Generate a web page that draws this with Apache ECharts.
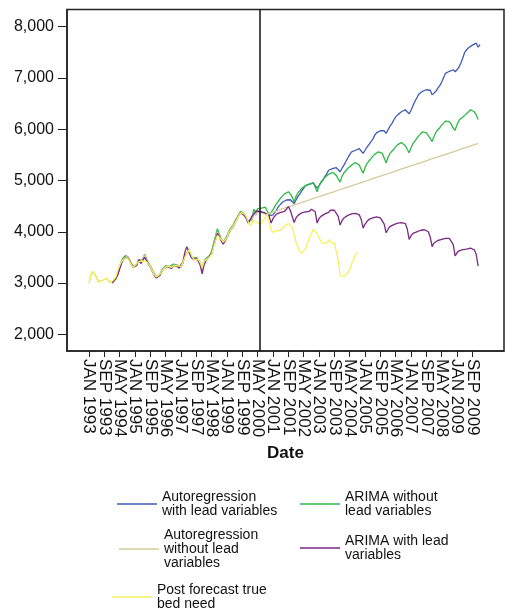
<!DOCTYPE html>
<html>
<head>
<meta charset="utf-8">
<script src="https://cdn.jsdelivr.net/npm/echarts@6/dist/echarts.min.js"></script>
<style>html,body{margin:0;padding:0;background:#fff}#chart{width:505px;height:610px}</style>
</head>
<body>
<div id="chart"></div>
<script>
// ---- axis definition ----
const MONTHS = ['JAN','FEB','MAR','APR','MAY','JUN','JUL','AUG','SEP','OCT','NOV','DEC'];
const AXIS_FIRST_YEAR = 1992, AXIS_FIRST_MONTH = 1; // FEB 1992
const AXIS_MONTH_COUNT = 228;                        // through JAN 2011
const DATA_START = 'JAN 1993';
const FORECAST_ORIGIN = 'JUN 2000';
const FIRST_TICK = 'JAN 1993', LAST_TICK = 'SEP 2009', TICK_STEP = 8;
const Y_TICKS = [2000, 3000, 4000, 5000, 6000, 7000, 8000];

// ---- data (monthly, from JAN 1993) ----
const trueBedNeed = [ // JAN 1993 .. SEP 2004
 3000,3180,3230,3160,3080,3010,3030,3050,3060,3100,3090,3000,
 3020,3070,3120,3250,3350,3420,3460,3480,3490,3440,3360,3300,
 3320,3380,3420,3400,3430,3460,3420,3370,3320,3240,3160,3120,
 3110,3170,3230,3280,3300,3330,3310,3300,3340,3350,3340,3310,
 3320,3410,3500,3570,3640,3590,3500,3450,3470,3460,3400,3300,
 3420,3450,3480,3510,3560,3700,3830,3930,3900,3850,3800,3780,
 3880,3990,4040,4100,4160,4230,4300,4370,4390,4350,4300,4200,
 4120,4150,4220,4200,4170,4160,4165,4170,4280,4350,4180,4040,
 3990,4000,4020,4020,4030,4040,4110,4140,4160,4170,4080,3950,
 3800,3700,3620,3580,3610,3670,3780,3880,3960,4050,4030,3960,
 3880,3810,3770,3750,3790,3840,3800,3790,3780,3770,3450,3150,
 3140,3130,3140,3200,3260,3380,3460,3550,3600];

const tanStart = [3000,3150,3220,3180,3100,3030,3020,3050,3070,3090,3100,3020]; // JAN..DEC 1993

const historyFit = [ // JAN 1994 .. MAY 2000
 3010,3060,3100,3180,3300,3400,3470,3500,3520,3460,3380,3310,
 3300,3370,3440,3400,3420,3540,3450,3380,3330,3250,3170,3110,
 3100,3160,3240,3290,3320,3330,3300,3310,3350,3380,3340,3310,
 3310,3400,3520,3580,3650,3570,3480,3460,3480,3440,3380,3250,
 3400,3460,3490,3520,3600,3740,3880,4000,3920,3840,3780,3800,
 3900,4000,4060,4100,4180,4250,4320,4380,4400,4340,4280,4180,
 4150,4230,4380,4330,4400];

const arimaNoLeadHist = [ // JAN 1994 .. MAY 2000
 3020,3050,3080,3200,3330,3440,3500,3540,3510,3450,3390,3320,
 3310,3380,3450,3420,3440,3560,3470,3390,3340,3260,3180,3120,
 3110,3170,3250,3300,3340,3350,3320,3330,3370,3400,3350,3320,
 3320,3390,3530,3560,3630,3560,3490,3480,3500,3460,3400,3280,
 3420,3480,3500,3540,3620,3780,3920,4060,3950,3860,3800,3820,
 3920,4020,4080,4120,4200,4260,4330,4400,4410,4350,4290,4200,
 4180,4270,4440,4380,4450];

const arimaLeadHist = [ // JAN 1994 .. MAY 2000
 3000,3040,3090,3160,3280,3390,3460,3490,3500,3450,3370,3300,
 3290,3350,3460,3380,3410,3500,3440,3360,3310,3230,3150,3100,
 3100,3150,3230,3280,3300,3320,3290,3280,3340,3370,3330,3290,
 3300,3420,3600,3710,3620,3520,3470,3450,3470,3430,3350,3180,
 3350,3440,3480,3510,3580,3720,3850,3970,3900,3820,3760,3780,
 3880,3980,4040,4090,4160,4240,4310,4370,4380,4320,4260,4170,
 4160,4300,4350,4400,4420];

const arLeadForecast = [ // JUN 2000 .. JAN 2010
 4400,4380,4370,4360,4330,4310,4290,
 4330,4380,4440,4500,4540,4580,4610,4620,4610,4625,4610,4550,
 4620,4690,4740,4800,4850,4900,4910,4930,4940,4950,4930,4850,
 4900,4960,5010,5070,5130,5200,5220,5230,5240,5250,5230,5170,
 5240,5300,5370,5440,5510,5560,5580,5590,5610,5620,5600,5530,
 5590,5650,5700,5730,5800,5880,5930,5950,5970,5990,5970,5920,
 5990,6060,6110,6180,6240,6280,6310,6340,6360,6380,6360,6300,
 6370,6460,6540,6610,6680,6710,6740,6760,6770,6780,6760,6670,
 6700,6740,6800,6850,6920,7010,7090,7110,7130,7150,7160,7120,
 7160,7210,7290,7390,7500,7550,7590,7620,7640,7660,7680,7600,
 7650];

const arimaNoLeadForecast = [ // JUN 2000 .. DEC 2009
 4440,4460,4490,4480,4400,4330,4320,
 4430,4500,4560,4610,4660,4700,4740,4770,4780,4740,4680,4580,
 4690,4760,4800,4850,4880,4900,4910,4930,4950,4960,4930,4780,
 4900,4970,5010,5060,5090,5120,5150,5160,5130,5100,5030,4970,
 5080,5150,5190,5240,5270,5300,5330,5350,5340,5300,5220,5140,
 5250,5330,5380,5420,5470,5510,5540,5560,5570,5530,5440,5340,
 5450,5530,5570,5610,5660,5700,5730,5740,5710,5680,5610,5540,
 5640,5720,5770,5820,5870,5910,5950,5960,5930,5900,5820,5760,
 5860,5940,5990,6030,6080,6120,6160,6180,6150,6100,6020,5980,
 6090,6170,6210,6240,6270,6300,6340,6380,6390,6340,6280,6190];

const arNoLeadForecast = [ // JUN 2000 .. DEC 2009
 4390,4370,4360,4355,4355,4360,4370,
 4385,4395,4410,4420,4435,4445,4460,4470,4485,4500,4510,4525,
 4535,4550,4560,4575,4585,4600,4610,4625,4635,4650,4660,4675,
 4685,4700,4710,4725,4735,4750,4760,4775,4785,4800,4810,4825,
 4835,4850,4860,4875,4885,4900,4910,4925,4935,4950,4960,4975,
 4985,5000,5010,5025,5035,5050,5060,5075,5085,5100,5110,5125,
 5135,5150,5160,5175,5185,5200,5210,5225,5235,5250,5260,5275,
 5285,5300,5310,5325,5335,5350,5360,5375,5385,5400,5410,5425,
 5435,5450,5460,5475,5485,5500,5510,5525,5535,5550,5560,5575,
 5585,5600,5610,5625,5635,5650,5660,5675,5685,5700,5710,5725];

const arimaLeadForecast = [ // JUN 2000 .. DEC 2009
 4400,4380,4380,4370,4340,4300,4170,
 4260,4310,4350,4370,4380,4390,4400,4440,4490,4420,4390,4180,
 4270,4320,4350,4370,4380,4390,4390,4400,4440,4460,4390,4170,
 4260,4300,4330,4350,4360,4380,4420,4430,4420,4390,4300,4130,
 4220,4270,4300,4320,4340,4350,4360,4360,4350,4330,4240,4070,
 4150,4200,4240,4260,4270,4280,4290,4280,4270,4250,4150,3980,
 4050,4100,4120,4140,4160,4170,4170,4180,4180,4160,4060,3850,
 3920,3970,3990,4000,4020,4030,4040,4040,4030,4000,3900,3710,
 3780,3810,3830,3840,3850,3860,3870,3880,3870,3850,3750,3530,
 3590,3630,3640,3650,3660,3660,3670,3680,3680,3650,3560,3330];

// ---- build axis categories ----
const categories = [];
for (let i = 0; i < AXIS_MONTH_COUNT; i++) {
  const k = AXIS_FIRST_MONTH + i;
  categories.push(MONTHS[k % 12] + ' ' + (AXIS_FIRST_YEAR + Math.floor(k / 12)));
}
const start = categories.indexOf(DATA_START);
const firstTick = categories.indexOf(FIRST_TICK), lastTick = categories.indexOf(LAST_TICK);
function place(offset, ...parts) {
  const out = new Array(categories.length).fill(null);
  let i = offset;
  parts.forEach(p => p.forEach(v => { out[i++] = v; }));
  return out;
}
const showTick = (idx) => idx >= firstTick && idx <= lastTick && (idx - firstTick) % TICK_STEP === 0;
// blank labels at both ends keep the real first/last labels out of ECharts' min/max overlap pruning
const showLabel = (idx) => showTick(idx) || idx === 0 || idx === categories.length - 1;

const FONT = '"Liberation Sans", Arial, sans-serif';
const names = {
  blue: 'Autoregression\nwith lead variables',
  green: 'ARIMA without\nlead variables',
  tan: 'Autoregression\nwithout lead\nvariables',
  purple: 'ARIMA with lead\nvariables',
  yellow: 'Post forecast true\nbed need'
};
const colors = {blue:'#3f5bb8', green:'#2fb948', tan:'#d5cb98', purple:'#7a2984', yellow:'#f7f25c'};

function lineSeries(key, data, extra) {
  return Object.assign({
    name: names[key], type: 'line', data: data, showSymbol: false, symbol: 'none',
    color: colors[key], lineStyle: {color: colors[key], width: 1.3},
    connectNulls: false, animation: false, z: 2
  }, extra || {});
}

const series = [
  lineSeries('blue', place(start + 12, historyFit, arLeadForecast)),
  lineSeries('green', place(start + 12, arimaNoLeadHist, arimaNoLeadForecast)),
  lineSeries('tan', place(start, tanStart, historyFit, arNoLeadForecast)),
  lineSeries('purple', place(start + 12, arimaLeadHist, arimaLeadForecast)),
  lineSeries('yellow', place(start, trueBedNeed), {
    markLine: {
      silent: true, symbol: 'none', animation: false,
      label: {show: false},
      lineStyle: {color: '#111', width: 1.5, type: 'solid'},
      data: [{xAxis: FORECAST_ORIGIN}]
    }
  })
];

const legendBase = {
  icon: 'rect', itemWidth: 40, itemHeight: 1.5, padding: 0, selectedMode: false,
  textStyle: {fontSize: 14, lineHeight: 14, color: '#111', fontFamily: FONT}
};
const legendPos = [
  ['blue', 117, 490], ['green', 300, 490], ['tan', 119, 528],
  ['purple', 300, 534], ['yellow', 112, 583]
];

const chart = echarts.init(document.getElementById('chart'), null, {renderer: 'canvas'});
chart.setOption({
  animation: false,
  backgroundColor: '#fff',
  textStyle: {fontFamily: FONT},
  grid: {left: 67, right: 1, top: 9.5, bottom: 259, containLabel: false, outerBoundsMode: 'none',
         show: true, borderColor: '#222', borderWidth: 1.5, backgroundColor: 'transparent'},
  legend: legendPos.map(([k, l, t]) => Object.assign({}, legendBase, {data: [names[k]], left: l, top: t})),
  xAxis: {
    type: 'category', data: categories, boundaryGap: true,
    axisLine: {show: true, lineStyle: {color: '#222', width: 1.5}},
    axisTick: {show: true, alignWithLabel: true, interval: (i) => showTick(i), length: 6, lineStyle: {color: '#222', width: 1}},
    axisLabel: {show: true, interval: (i) => showLabel(i), rotate: -90, fontSize: 17, color: '#111', margin: 8,
                fontFamily: FONT, hideOverlap: false,
                formatter: (v, i) => showTick(i) ? v : ''},
    splitLine: {show: false},
    name: 'Date', nameLocation: 'middle', nameGap: 93,
    nameTextStyle: {fontSize: 17, fontWeight: 'bold', color: '#111', fontFamily: FONT}
  },
  yAxis: {
    type: 'value', min: 1675, max: 8335,
    axisLine: {show: true, lineStyle: {color: '#222', width: 1.5}},
    axisTick: {show: true, length: 9, customValues: Y_TICKS, lineStyle: {color: '#222', width: 1}},
    axisLabel: {customValues: Y_TICKS, fontSize: 16, color: '#111', margin: 13, fontFamily: FONT,
                formatter: (v) => v.toLocaleString('en-US')},
    splitLine: {show: false}
  },
  series: series
});
</script>
</body>
</html>
